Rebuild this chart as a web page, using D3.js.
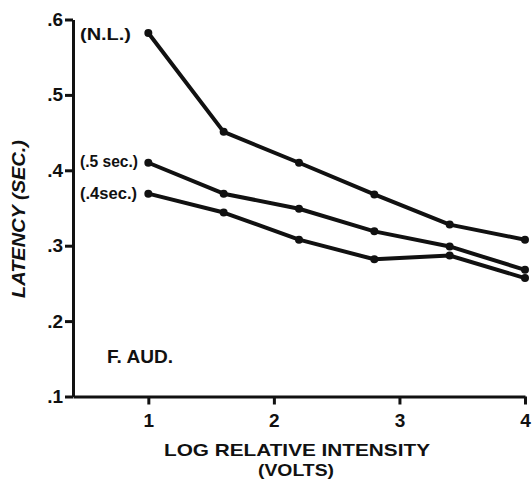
<!DOCTYPE html>
<html>
<head>
<meta charset="utf-8">
<script src="https://cdn.jsdelivr.net/npm/d3@7"></script>
<style>
  html, body { margin: 0; padding: 0; background: #fff; }
  svg { display: block; }
  text { font-family: "Liberation Sans", Arial, sans-serif; font-weight: bold; fill: #111; }
</style>
</head>
<body>
<svg id="chart" width="532" height="479"></svg>
<script>
// ---- data ----
const intensities = [1, 1.6, 2.2, 2.8, 3.4, 4];
const seriesNames = ["(N.L.)", "(.5 sec.)", "(.4sec.)"];
const latencyNL  = [0.582, 0.451, 0.410, 0.368, 0.328, 0.308];
const latency05  = [0.410, 0.369, 0.349, 0.319, 0.299, 0.268];
const latency04  = [0.369, 0.344, 0.308, 0.282, 0.287, 0.257];
const yTicks = [0.1, 0.2, 0.3, 0.4, 0.5, 0.6];
const xTicks = [1, 2, 3, 4];
const yTitle = "LATENCY (SEC.)";
const xTitle = ["LOG RELATIVE INTENSITY", "(VOLTS)"];
const panelLabel = "F. AUD.";

const allSeries = [latencyNL, latency05, latency04];

const svg = d3.select("#chart");
const x = d3.scaleLinear().domain([0.4, 4]).range([73, 525]);
const y = d3.scaleLinear().domain([0.1, 0.6]).range([396.5, 19.5]);

// axes
const yAxis = d3.axisLeft(y).tickValues(yTicks)
  .tickFormat(d => "." + Math.round(d * 10)).tickSize(8).tickSizeOuter(0).tickPadding(2);
const gy = svg.append("g").attr("transform", `translate(${x(0.4)},0)`).call(yAxis);

const xAxis = d3.axisBottom(x).tickValues(xTicks)
  .tickFormat(d3.format("d")).tickSize(8).tickSizeOuter(0).tickPadding(9);
const gx = svg.append("g").attr("transform", `translate(0,${y(0.1)})`).call(xAxis);

[gy, gx].forEach(g => {
  g.attr("font-size", null).attr("font-family", null);
  g.select(".domain").attr("stroke", "#111").attr("stroke-width", 3);
  g.selectAll(".tick line").attr("stroke", "#111").attr("stroke-width", 3);
  g.selectAll(".tick text").attr("fill", "#111")
    .style("font-family", '"Liberation Sans", Arial, sans-serif')
    .style("font-weight", "bold").style("font-size", "19px");
});

// lines
const line = d3.line().x((d, i) => x(intensities[i])).y(d => y(d));
allSeries.forEach(s => {
  svg.append("path").datum(s).attr("d", line)
    .attr("fill", "none").attr("stroke", "#111").attr("stroke-width", 4)
    .attr("stroke-linejoin", "round");
  svg.selectAll(null).data(s).enter().append("circle")
    .attr("cx", (d, i) => x(intensities[i])).attr("cy", d => y(d))
    .attr("r", 4).attr("fill", "#111");
});

// series labels
const labelPos = [[80, 40, 51], [80, 167, 58], [80, 199, 57]];
seriesNames.forEach((n, i) => {
  svg.append("text").attr("x", labelPos[i][0]).attr("y", labelPos[i][1])
    .attr("textLength", labelPos[i][2]).attr("lengthAdjust", "spacingAndGlyphs")
    .style("font-size", "16px").text(n);
});

svg.append("text").attr("x", 107).attr("y", 363).attr("textLength", 66)
  .attr("lengthAdjust", "spacingAndGlyphs").style("font-size", "18px").text(panelLabel);

// axis titles
svg.append("text").attr("x", 297).attr("y", 456).attr("text-anchor", "middle")
  .attr("textLength", 266).attr("lengthAdjust", "spacingAndGlyphs")
  .style("font-size", "17px").text(xTitle[0]);
svg.append("text").attr("x", 296).attr("y", 475.5).attr("text-anchor", "middle")
  .attr("textLength", 76).attr("lengthAdjust", "spacingAndGlyphs")
  .style("font-size", "17px").text(xTitle[1]);

svg.append("text").attr("transform", "translate(25,219) rotate(-90)")
  .attr("text-anchor", "middle").attr("textLength", 158).attr("lengthAdjust", "spacingAndGlyphs")
  .style("font-size", "18px").style("font-style", "italic").text(yTitle);
</script>
</body>
</html>
